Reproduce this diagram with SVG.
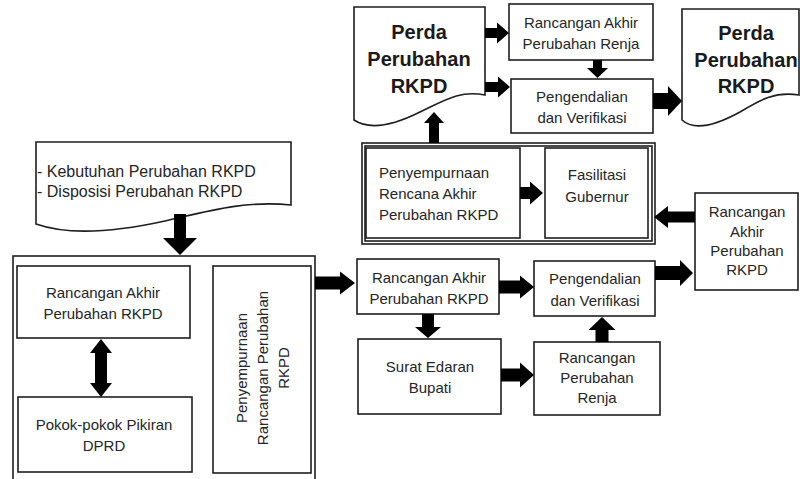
<svg xmlns="http://www.w3.org/2000/svg" width="803" height="479" viewBox="0 0 803 479">
<style>
.box{fill:#fff;stroke:#1e1e1e;stroke-width:1.6}
.t{font-family:"Liberation Sans",Arial,sans-serif;font-size:15px;fill:#262626;text-anchor:middle}
.tl{text-anchor:start}
.k{font-size:16px}
.b{font-family:"Liberation Sans",Arial,sans-serif;font-size:20px;font-weight:bold;fill:#1a1a1a;text-anchor:middle}
.arr{fill:#000;stroke:none}
</style>
<rect width="803" height="479" fill="#fff"/>

<g id="perda-left">
<path class="box" d="M354,7 H485 V95 C460,90 445,100 420,112 C398,123 372,132 354,120 Z"/>
<text class="b" x="419" y="39">Perda</text>
<text class="b" x="419" y="66">Perubahan</text>
<text class="b" x="419" y="93">RKPD</text>
</g>

<g id="rancangan-akhir-renja">
<rect class="box" x="509" y="4" width="144" height="56"/>
<text class="t" x="581" y="28">Rancangan Akhir</text>
<text class="t" x="581" y="49">Perubahan Renja</text>
</g>

<g id="pengendalian-top">
<rect class="box" x="511" y="79" width="142" height="54"/>
<text class="t" x="582" y="102">Pengendalian</text>
<text class="t" x="582" y="123">dan Verifikasi</text>
</g>

<g id="perda-right">
<path class="box" d="M682,9 H799 V95 C775,91 760,100 740,112 C720,123 695,132 682,120 Z"/>
<text class="b" x="746" y="40">Perda</text>
<text class="b" x="746" y="67">Perubahan</text>
<text class="b" x="746" y="93">RKPD</text>
</g>

<g id="fasilitasi-group">
<rect class="box" x="362" y="143" width="293" height="101"/>
<rect class="box" x="365" y="146" width="287" height="95"/>
</g>

<g id="penyempurnaan-rencana">
<rect class="box" x="366" y="148" width="154" height="90"/>
<text class="t tl" x="379" y="178">Penyempurnaan</text>
<text class="t tl" x="379" y="199">Rencana Akhir</text>
<text class="t tl" x="379" y="220">Perubahan RKPD</text>
</g>

<g id="fasilitasi-gubernur">
<rect class="box" x="545" y="148" width="103" height="90"/>
<text class="t" x="597" y="180">Fasilitasi</text>
<text class="t" x="597" y="202">Gubernur</text>
</g>

<g id="rancangan-akhir-right">
<rect class="box" x="695" y="193" width="103" height="97"/>
<text class="t" x="747" y="217">Rancangan</text>
<text class="t" x="747" y="237">Akhir</text>
<text class="t" x="747" y="256">Perubahan</text>
<text class="t" x="747" y="275">RKPD</text>
</g>

<g id="kebutuhan">
<path class="box" d="M36,142 H291 V205 C245,200 205,212 165,221 C115,232 70,236 36,224 Z"/>
<text class="t tl k" x="37" y="177">- Kebutuhan Perubahan RKPD</text>
<text class="t tl k" x="37" y="197">- Disposisi Perubahan RKPD</text>
</g>

<g id="penyusunan-group">
<rect class="box" x="13" y="256" width="302" height="230"/>
</g>

<g id="rancangan-akhir-left">
<rect class="box" x="17" y="266" width="173" height="72"/>
<text class="t" x="103" y="298">Rancangan Akhir</text>
<text class="t" x="103" y="319">Perubahan RKPD</text>
</g>

<g id="pokok-pikiran">
<rect class="box" x="18" y="397" width="174" height="75"/>
<text class="t" x="104" y="430">Pokok-pokok Pikiran</text>
<text class="t" x="104" y="451">DPRD</text>
</g>

<g id="penyempurnaan-rancangan">
<rect class="box" x="213" y="266" width="98" height="207"/>
<text class="t" transform="translate(247,368) rotate(-90)">Penyempurnaan</text>
<text class="t" transform="translate(268,368) rotate(-90)">Rancangan Perubahan</text>
<text class="t" transform="translate(289,368) rotate(-90)">RKPD</text>
</g>

<g id="rancangan-akhir-mid">
<rect class="box" x="357" y="259" width="142" height="55"/>
<text class="t" x="429" y="283">Rancangan Akhir</text>
<text class="t" x="429" y="304">Perubahan RKPD</text>
</g>

<g id="pengendalian-mid">
<rect class="box" x="534" y="261" width="121" height="55"/>
<text class="t" x="595" y="284">Pengendalian</text>
<text class="t" x="595" y="306">dan Verifikasi</text>
</g>

<g id="surat-edaran">
<rect class="box" x="358" y="339" width="143" height="75"/>
<text class="t" x="430" y="372">Surat Edaran</text>
<text class="t" x="430" y="393">Bupati</text>
</g>

<g id="rancangan-perubahan-renja">
<rect class="box" x="534" y="342" width="126" height="73"/>
<text class="t" x="597" y="363">Rancangan</text>
<text class="t" x="597" y="383">Perubahan</text>
<text class="t" x="597" y="403">Renja</text>
</g>

<g id="connectors">
<!-- doc -> rancangan akhir renja -->
<path class="arr" d="M485,28 H497 V22.5 L509,33 L497,43.5 V38 H485 Z"/>
<!-- doc -> pengendalian top -->
<path class="arr" d="M485,82 H498 V76.5 L510,87 L498,97.5 V92 H485 Z"/>
<!-- renja -> pengendalian top (down) -->
<path class="arr" d="M593,60 V68 H587 L597.5,78 L608,68 H602 V60 Z"/>
<!-- pengendalian top -> perda right -->
<path class="arr" d="M653,93 H668 V86 L682,101 L668,116 V109 H653 Z"/>
<!-- outer group -> perda left (up) -->
<path class="arr" d="M429,143 V123 H424 L434,112 L444,123 H439 V143 Z"/>
<!-- penyempurnaan -> fasilitasi -->
<path class="arr" d="M520,187 H530 V181.5 L543,193 L530,204.5 V199 H520 Z"/>
<!-- right box -> fasilitasi group (left) -->
<path class="arr" d="M695,211.5 H668 V206 L654,217 L668,228 V222.5 H695 Z"/>
<!-- kebutuhan -> penyusunan (down) -->
<path class="arr" d="M174,214 V238 H163 L180,255 L197,238 H186 V214 Z"/>
<!-- penyusunan -> rancangan akhir mid -->
<path class="arr" d="M315,276.5 H340 V271.5 L355,283 L340,294.5 V289.5 H315 Z"/>
<!-- rancangan mid -> pengendalian mid -->
<path class="arr" d="M499,280.5 H520 V275.5 L534,287 L520,298.5 V293.5 H499 Z"/>
<!-- pengendalian mid -> right box -->
<path class="arr" d="M655,266 H680 V260 L693,273 L680,286 V280 H655 Z"/>
<!-- rancangan mid -> surat (down) -->
<path class="arr" d="M422,314 V327 H415 L428,338 L441,327 H434 V314 Z"/>
<!-- surat -> renja -->
<path class="arr" d="M501,368.5 H520 V362.5 L534,375 L520,387.5 V381.5 H501 Z"/>
<!-- renja -> pengendalian mid (up) -->
<path class="arr" d="M595.5,342 V330 H588.5 L602,317 L615.5,330 H608.5 V342 Z"/>
<!-- rancangan akhir left <-> pokok pikiran -->
<path class="arr" d="M101,339 L112,353 H107 V383 H112 L101,397 L90,383 H95 V353 H90 Z"/>
</g>
</svg>
